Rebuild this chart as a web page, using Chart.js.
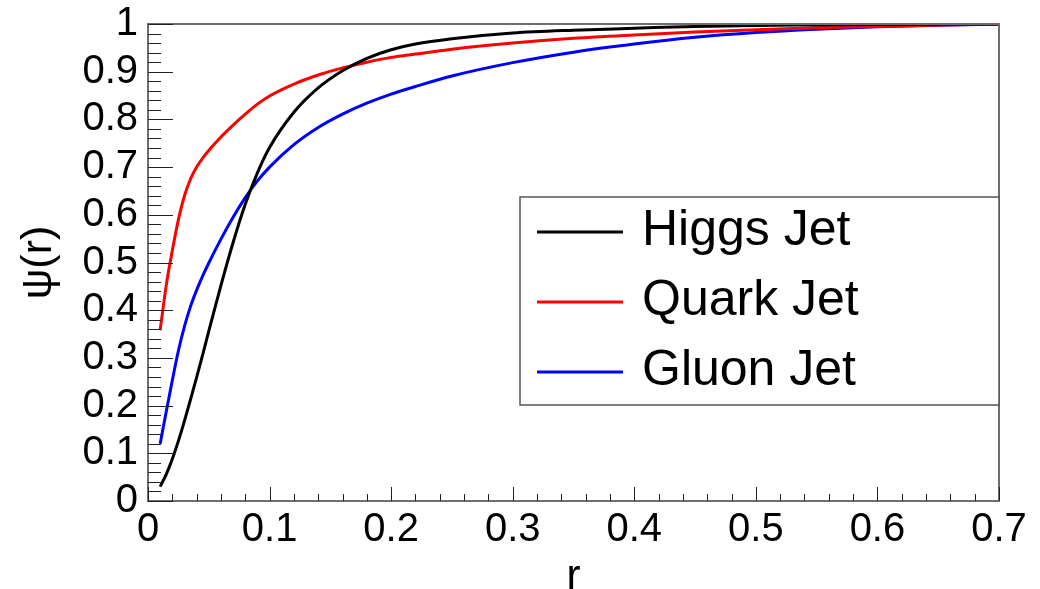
<!DOCTYPE html>
<html>
<head>
<meta charset="utf-8">
<script src="https://cdn.jsdelivr.net/npm/chart.js@4/dist/chart.umd.min.js"></script>
<style>
  html, body { margin: 0; padding: 0; background: #ffffff; }
  #wrap { width: 1040px; height: 589px; }
</style>
</head>
<body>
<div id="wrap"><canvas id="c" width="1040" height="589"></canvas></div>
<script>
// ---- data ----
const rValues = [0.01, 0.015, 0.02, 0.025, 0.03, 0.035, 0.04, 0.045, 0.05, 0.06, 0.07, 0.08, 0.09, 0.1,
                 0.12, 0.14, 0.16, 0.18, 0.2, 0.22, 0.25, 0.3, 0.35, 0.4, 0.45, 0.5, 0.55, 0.6, 0.65, 0.7];
const higgsJet = [0.030, 0.056, 0.088, 0.126, 0.168, 0.213, 0.259, 0.307, 0.356, 0.452, 0.542, 0.622, 0.688, 0.741,
                  0.815, 0.866, 0.902, 0.928, 0.946, 0.958, 0.969, 0.981, 0.987, 0.991, 0.995, 0.997, 0.998, 0.999, 0.9995, 1.0];
const quarkJet = [0.358, 0.452, 0.525, 0.590, 0.640, 0.675, 0.700, 0.719, 0.735, 0.763, 0.788, 0.811, 0.832, 0.849,
                  0.874, 0.893, 0.908, 0.920, 0.930, 0.937, 0.947, 0.960, 0.970, 0.977, 0.983, 0.988, 0.992, 0.995, 0.998, 1.0];
const gluonJet = [0.120, 0.187, 0.253, 0.315, 0.366, 0.408, 0.442, 0.472, 0.499, 0.549, 0.595, 0.636, 0.671, 0.700,
                  0.747, 0.783, 0.811, 0.834, 0.853, 0.869, 0.891, 0.919, 0.941, 0.958, 0.972, 0.982, 0.989, 0.994, 0.9975, 1.0];
const seriesLabels = ['Higgs Jet', 'Quark Jet', 'Gluon Jet'];
const seriesColors = ['#000000', '#ff0000', '#0000ff'];
const xTickLabels = ['0', '0.1', '0.2', '0.3', '0.4', '0.5', '0.6', '0.7'];
const yTickLabels = ['0', '0.1', '0.2', '0.3', '0.4', '0.5', '0.6', '0.7', '0.8', '0.9', '1'];
const xAxisTitle = 'r';
const yAxisTitle = 'ψ(r)';

const FONT = '"Liberation Sans", Arial, Helvetica, sans-serif';
Chart.defaults.font.family = FONT;
Chart.defaults.color = '#000000';

function toPoints(ys) { return rValues.map((r, i) => ({ x: r, y: ys[i] })); }

// Inward ROOT-style ticks and frame
const frameTicks = {
  id: 'frameTicks',
  afterDatasetsDraw(chart) {
    const { ctx, chartArea: a, scales: { x, y } } = chart;
    ctx.save();
    ctx.strokeStyle = '#6e6e6e';
    ctx.lineWidth = 2;
    ctx.strokeRect(a.left, a.top, a.right - a.left, a.bottom - a.top);
    ctx.strokeStyle = '#222222';
    ctx.lineWidth = 1;
    for (let i = 0; i <= 50; i++) {
      const py = Math.round(y.getPixelForValue(i * 0.02)) + 0.5;
      const len = (i % 5 === 0) ? 25 : 13;
      ctx.beginPath();
      ctx.moveTo(a.left, py);
      ctx.lineTo(a.left + len, py);
      ctx.stroke();
    }
    for (let i = 0; i <= 35; i++) {
      const px = Math.round(x.getPixelForValue(i * 0.02)) + 0.5;
      const len = (i % 5 === 0) ? 14 : 7;
      ctx.beginPath();
      ctx.moveTo(px, a.bottom);
      ctx.lineTo(px, a.bottom - len);
      ctx.stroke();
    }
    ctx.restore();
  }
};

// Boxed legend inside the plot
const boxLegend = {
  id: 'boxLegend',
  afterDraw(chart) {
    const { ctx } = chart;
    const box = { l: 520, t: 197, r: 999, b: 405 };
    ctx.save();
    ctx.fillStyle = '#ffffff';
    ctx.fillRect(box.l, box.t, box.r - box.l, box.b - box.t);
    ctx.strokeStyle = '#555555';
    ctx.lineWidth = 1.5;
    ctx.strokeRect(box.l, box.t, box.r - box.l, box.b - box.t);
    const rowsY = [232, 302, 372];
    chart.data.datasets.forEach((ds, i) => {
      const yy = rowsY[i];
      ctx.strokeStyle = ds.borderColor;
      ctx.lineWidth = 3;
      ctx.beginPath();
      ctx.moveTo(537, yy);
      ctx.lineTo(623, yy);
      ctx.stroke();
      ctx.fillStyle = '#000000';
      ctx.font = '50px ' + FONT;
      ctx.textAlign = 'left';
      ctx.textBaseline = 'alphabetic';
      ctx.fillText(ds.label, 642, yy + 13);
    });
    ctx.restore();
  }
};

new Chart(document.getElementById('c'), {
  type: 'line',
  data: {
    datasets: seriesLabels.map((lab, i) => ({
      label: lab,
      data: toPoints([higgsJet, quarkJet, gluonJet][i]),
      borderColor: seriesColors[i],
      backgroundColor: seriesColors[i],
      borderWidth: 3,
      pointRadius: 0,
      fill: false,
      cubicInterpolationMode: 'monotone'
    }))
  },
  options: {
    responsive: false,
    animation: false,
    devicePixelRatio: 1,
    layout: { padding: { left: 0, top: 24, right: 41, bottom: 0 } },
    plugins: { legend: { display: false }, tooltip: { enabled: false } },
    scales: {
      x: {
        type: 'linear',
        min: 0, max: 0.7,
        grid: { display: false, drawTicks: false },
        border: { display: false },
        ticks: {
          stepSize: 0.1,
          autoSkip: false,
          maxRotation: 0,
          padding: 5,
          font: { size: 40 },
          color: '#000000',
          callback: (v) => xTickLabels[Math.round(v * 10)]
        },
        title: {
          display: true,
          text: xAxisTitle,
          font: { size: 42, lineHeight: 1 },
          color: '#000000',
          padding: { top: 0, bottom: -9 }
        },
        afterFit(scale) { scale.height = 88; scale.paddingLeft = 0; scale.paddingRight = 0; }
      },
      y: {
        type: 'linear',
        min: 0, max: 1,
        grid: { display: false, drawTicks: false },
        border: { display: false },
        ticks: {
          stepSize: 0.1,
          autoSkip: false,
          padding: 10,
          font: { size: 40 },
          color: '#000000',
          callback: (v) => yTickLabels[Math.round(v * 10)]
        },
        title: {
          display: true,
          text: yAxisTitle,
          font: { size: 43, lineHeight: 1.2 },
          color: '#000000',
          padding: { top: 13, bottom: 0 }
        },
        afterFit(scale) { scale.width = 148; scale.paddingTop = 0; scale.paddingBottom = 0; }
      }
    }
  },
  plugins: [frameTicks, boxLegend]
});
</script>
</body>
</html>
